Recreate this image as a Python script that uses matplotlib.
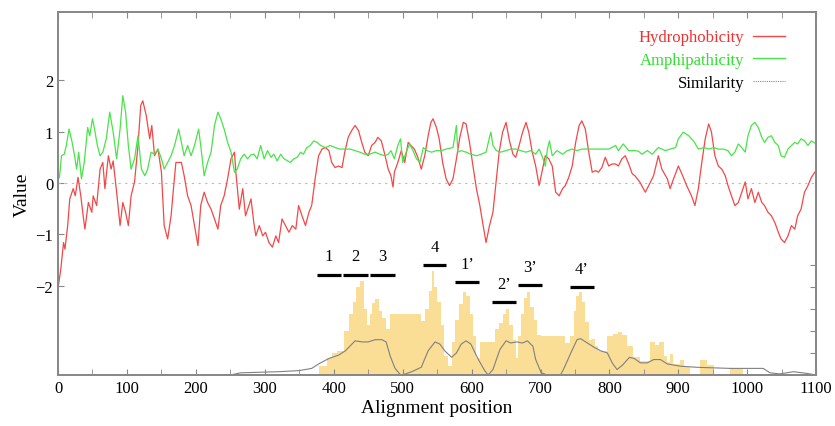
import matplotlib
matplotlib.use("Agg")
import matplotlib.pyplot as plt
from matplotlib.lines import Line2D
from matplotlib.ticker import MultipleLocator

# hydrophobicity profile (red)
hyd_pos = [0, 4, 8, 10, 14, 17, 22, 25, 29, 33, 37, 39, 44, 49, 51, 56, 61, 65, 68, 73,
           77, 80, 85, 90, 94, 98, 102, 106, 111, 116, 120, 123, 128, 133, 136, 140, 145, 150, 154, 159,
           164, 167, 171, 179, 183, 188, 193, 198, 203, 207, 212, 217, 222, 227, 232, 236, 241, 246, 251, 256,
           258, 263, 268, 272, 280, 284, 287, 292, 297, 301, 306, 311, 316, 320, 325, 330, 335, 340, 345, 349,
           354, 359, 364, 368, 373, 378, 383, 388, 393, 397, 402, 407, 412, 416, 421, 426, 431, 436, 440, 445,
           450, 455, 460, 464, 469, 474, 479, 483, 486, 488, 493, 498, 503, 508, 512, 517, 522, 527, 532, 537,
           541, 544, 549, 553, 558, 563, 568, 573, 578, 583, 588, 592, 597, 602, 607, 612, 616, 621, 626, 631,
           636, 640, 645, 650, 655, 660, 664, 669, 674, 679, 683, 688, 693, 698, 703, 707, 712, 717, 722, 727,
           732, 736, 741, 746, 751, 756, 760, 765, 770, 775, 780, 784, 789, 794, 799, 804, 809, 813, 818, 823,
           828, 833, 837, 844, 852, 857, 864, 871, 876, 884, 888, 893, 900, 905, 912, 919, 924, 929, 934, 939,
           944, 948, 953, 958, 963, 968, 972, 977, 982, 987, 992, 997, 1001, 1006, 1011, 1016, 1021, 1025, 1030, 1035,
           1040, 1045, 1049, 1054, 1059, 1064, 1069, 1073, 1078, 1083, 1088, 1093, 1100]
hyd_val = [-2.05, -1.68, -1.16, -1.29, -0.83, -0.31, -0.11, -0.25, 0.11, -0.25, -0.7, -0.9, -0.38, -0.57, -0.25, -0.44, 0.27, 0.40, -0.11, 0.53,
           0.27, 0.43, -0.18, -0.83, -0.38, -0.57, -0.83, -0.25, 0.02, 0.73, 1.51, 1.6, 1.31, 0.86, 1.12, 0.53, 0.66, 0.21, -0.83, -1.09,
           -0.64, -0.18, 0.40, 0.4, 0.14, -0.25, -0.44, -0.83, -1.22, -0.44, -0.18, -0.38, -0.51, -0.7, -0.9, -0.44, -0.25, 0.08, 0.47, 0.6,
           0.21, -0.51, -0.11, -0.64, -0.31, -0.77, -1.03, -0.83, -1.03, -0.96, -1.16, -1.25, -1.03, -1.16, -0.7, -0.83, -0.96, -0.83, -0.9, -0.44,
           -0.64, -0.83, -0.57, -0.44, 0.08, 0.53, 0.66, 0.69, 0.63, 0.40, 0.30, 0.33, 0.30, 0.6, 0.89, 1.02, 1.12, 1.02, 0.82, 0.6,
           0.53, 0.73, 0.79, 0.89, 0.82, 0.56, 0.27, 0.14, -0.08, 0.21, 0.40, 0.63, 0.4, 0.79, 0.73, 0.66, 0.5, 0.27, 0.53, 0.92,
           1.18, 1.25, 1.08, 0.86, 0.40, 0.08, -0.05, 0.08, 0.47, 0.89, 1.18, 1.15, 0.79, 0.33, -0.11, -0.44, -0.77, -1.16, -0.83, -0.57,
           0.08, 0.6, 0.99, 1.18, 0.82, 0.56, 0.5, 0.73, 0.99, 1.18, 0.99, 0.6, 0.33, -0.05, 0.27, 0.53, 0.47, 0.33, -0.18, -0.25,
           -0.11, -0.05, 0.11, 0.33, 0.79, 1.12, 1.21, 1.05, 0.6, 0.21, 0.24, 0.21, 0.3, 0.5, 0.33, 0.37, 0.37, 0.33, 0.47, 0.53,
           0.37, 0.18, 0.14, 0.02, -0.18, -0.05, 0.14, 0.53, 0.27, 0.08, -0.11, 0.08, 0.33, 0.18, -0.05, -0.25, -0.44, -0.11, 0.40, 0.86,
           1.15, 0.99, 0.53, 0.33, 0.27, 0.14, -0.05, -0.25, -0.44, -0.38, -0.18, 0.02, -0.31, -0.11, -0.38, -0.18, -0.38, -0.44, -0.57, -0.64,
           -0.77, -0.96, -1.09, -1.16, -1.03, -0.83, -0.9, -0.64, -0.51, -0.18, -0.05, 0.11, 0.25]

# amphipathicity profile (green)
amp_pos = [0, 2, 5, 9, 12, 16, 20, 24, 27, 30, 34, 38, 43, 46, 50, 53, 57, 61, 65, 70,
           75, 80, 85, 90, 94, 98, 102, 106, 111, 116, 121, 126, 130, 135, 140, 145, 150, 154, 159, 164,
           169, 175, 179, 183, 188, 193, 198, 204, 207, 212, 217, 222, 227, 232, 236, 241, 246, 251, 256, 260,
           265, 270, 275, 280, 284, 289, 294, 299, 304, 309, 313, 318, 323, 328, 333, 337, 342, 347, 352, 356,
           361, 366, 371, 376, 381, 388, 395, 402, 409, 416, 424, 431, 438, 445, 452, 460, 467, 474, 479, 483,
           488, 493, 497, 500, 505, 510, 515, 520, 525, 530, 535, 542, 549, 556, 563, 573, 578, 580, 585, 592,
           599, 607, 614, 621, 626, 628, 631, 636, 642, 650, 657, 664, 671, 679, 686, 693, 698, 703, 707, 710,
           713, 717, 724, 732, 739, 746, 753, 760, 770, 780, 789, 799, 809, 813, 820, 828, 835, 842, 847, 855,
           862, 871, 881, 888, 896, 900, 907, 915, 922, 929, 937, 944, 951, 958, 965, 972, 977, 982, 987, 992,
           997, 1001, 1006, 1011, 1016, 1021, 1025, 1030, 1035, 1040, 1045, 1049, 1054, 1059, 1064, 1069, 1073, 1078, 1083, 1088,
           1093, 1100]
amp_val = [0.15, 0.1, 0.53, 0.56, 0.73, 1.05, 0.82, 0.53, 0.27, 0.6, 0.08, 0.4, 1.08, 0.92, 1.25, 1.05, 0.73, 0.53, 0.6, 0.86,
           1.38, 0.99, 0.47, 1.05, 1.70, 1.38, 0.73, 0.27, 0.47, 0.92, 0.27, 0.14, 0.27, 0.6, 0.56, 0.66, 0.47, 0.27, 0.4, 0.53,
           0.73, 1.05, 0.79, 0.53, 0.73, 0.53, 0.73, 1.05, 0.73, 0.14, 0.4, 0.6, 1.12, 1.38, 1.25, 1.05, 0.79, 0.6, 0.21, 0.27,
           0.47, 0.56, 0.47, 0.55, 0.56, 0.47, 0.73, 0.47, 0.63, 0.5, 0.56, 0.43, 0.56, 0.47, 0.43, 0.4, 0.47, 0.5, 0.6, 0.56,
           0.69, 0.73, 0.82, 0.79, 0.73, 0.69, 0.73, 0.69, 0.66, 0.66, 0.66, 0.63, 0.6, 0.56, 0.56, 0.6, 0.56, 0.53, 0.56, 0.63,
           0.47, 0.73, 0.86, 0.40, 0.6, 0.76, 0.63, 0.47, 0.4, 0.69, 0.63, 0.6, 0.63, 0.63, 0.66, 0.69, 1.12, 0.6, 0.63, 0.6,
           0.56, 0.53, 0.56, 0.6, 0.89, 0.99, 0.73, 0.63, 0.6, 0.63, 0.66, 0.66, 0.63, 0.6, 0.63, 0.56, 0.66, 0.5, 0.33, 0.66,
           0.82, 0.53, 0.63, 0.56, 0.63, 0.66, 0.63, 0.66, 0.66, 0.66, 0.66, 0.66, 0.73, 0.63, 0.76, 0.63, 0.63, 0.62, 0.56, 0.63,
           0.56, 0.69, 0.63, 0.66, 0.69, 0.86, 0.99, 0.92, 0.82, 0.66, 0.69, 0.66, 0.69, 0.66, 0.66, 0.63, 0.53, 0.6, 0.76, 0.69,
           0.6, 0.92, 1.12, 1.18, 1.08, 0.89, 0.79, 0.89, 0.92, 0.79, 0.73, 0.53, 0.5, 0.66, 0.73, 0.79, 0.76, 0.86, 0.82, 0.73,
           0.82, 0.76]

# similarity curve (grey, right hand scale)
sim_pos = [0, 250, 265, 320, 350, 368, 378, 393, 407, 417, 431, 441, 450, 460, 470, 476, 482, 489, 497, 504,
           513, 527, 537, 547, 554, 561, 571, 578, 585, 592, 599, 609, 619, 624, 631, 641, 650, 657, 665, 674,
           681, 689, 693, 701, 710, 729, 734, 744, 753, 758, 768, 778, 787, 797, 804, 811, 819, 829, 836, 845,
           855, 864, 874, 884, 903, 927, 951, 975, 1013, 1023, 1033, 1047, 1067, 1086, 1100]
sim_val = [0, 0, 0.02, 0.03, 0.04, 0.06, 0.1, 0.15, 0.18, 0.22, 0.31, 0.30, 0.30, 0.32, 0.32, 0.30, 0.17, 0.06, 0.0, 0.01,
           0.03, 0.07, 0.22, 0.30, 0.28, 0.22, 0.16, 0.2, 0.28, 0.31, 0.28, 0.15, 0.04, 0.0, 0.05, 0.23, 0.31, 0.29, 0.3, 0.29,
           0.31, 0.26, 0.14, 0.02, 0.0, 0.0, 0.06, 0.2, 0.32, 0.33, 0.29, 0.25, 0.22, 0.20, 0.11, 0.05, 0.09, 0.16, 0.15, 0.11,
           0.11, 0.14, 0.14, 0.10, 0.08, 0.07, 0.065, 0.06, 0.06, 0.06, 0.02, 0.01, 0.03, 0.015, 0.0]

# conservation histogram (yellow, right hand scale)
cons_edges = [378, 390, 398, 405, 415, 422, 428, 433, 438, 444, 448, 452, 456, 460, 465, 470, 476, 481, 526, 533,
              538, 542, 546, 550, 555, 560, 566, 571, 576, 582, 587, 592, 597, 602, 606, 612, 634, 640, 645, 650,
              655, 660, 664, 668, 672, 676, 680, 685, 690, 695, 700, 735, 743, 748, 752, 756, 760, 765, 770, 775,
              779, 784, 797, 805, 812, 818, 826, 834, 845, 859, 866, 872, 879, 884, 888, 892, 903, 908, 917, 931,
              941, 951, 975, 994]
cons_height = [0.08, 0.15, 0.2, 0.22, 0.4, 0.55, 0.66, 0.8, 0.85, 0.6, 0.45, 0.55, 0.65, 0.69, 0.58, 0.52, 0.42, 0.55, 0.49,
               0.6, 0.76, 0.94, 0.8, 0.66, 0.45, 0.17, 0.08, 0.3, 0.5, 0.64, 0.75, 0.72, 0.55, 0.35, 0.15, 0.30, 0.42, 0.47, 0.55,
               0.6, 0.45, 0.32, 0.15, 0.35, 0.55, 0.7, 0.75, 0.62, 0.5, 0.36, 0.35, 0.29, 0.35, 0.58, 0.72, 0.75, 0.66, 0.48, 0.32,
               0.33, 0.26, 0.22, 0.35, 0.37, 0.39, 0.36, 0.26, 0.16, 0.13, 0.30, 0.27, 0.30, 0.17, 0.12, 0.19, 0.10, 0.14, 0.07, 0.0,
               0.14, 0.09, 0.0, 0.06]

# repeat segments
seg_names = ["1", "2", "3", "4", "1\u2019", "2\u2019", "3\u2019", "4\u2019"]
seg_start = [375, 414, 453, 530, 576, 630, 667, 743]
seg_end = [410, 449, 489, 563, 611, 664, 702, 777]
seg_level = [-1.79, -1.79, -1.79, -1.6, -1.93, -2.32, -1.99, -2.03]

plt.rcParams['font.family'] = "Liberation Serif"
plt.rcParams['font.size'] = 12
plt.rcParams['axes.unicode_minus'] = True

fig = plt.figure(figsize=(8.35, 4.27), dpi=100)
ax = fig.add_axes([0.0695, 0.1194, 0.908, 0.8502])
ax2 = ax.twinx()
ax.set_zorder(ax2.get_zorder() + 1)
ax.patch.set_visible(False)

ax2.stairs(cons_height, cons_edges, fill=True, color="#fade96", lw=0)
ax2.plot(sim_pos, sim_val, color="#808080", lw=0.8)

ax.axhline(0, color="#bbbbbb", lw=0.8, ls=(0, (2, 4)))
ax.plot(hyd_pos, hyd_val, color="#f24848", lw=0.9)
ax.plot(amp_pos, amp_val, color="#48e448", lw=0.9)

for name, x0, x1, lev in zip(seg_names, seg_start, seg_end, seg_level):
    ax.plot([x0, x1], [lev, lev], color="black", lw=2.3, solid_capstyle="butt")
    ax.text((x0 + x1) / 2.0, lev + 0.36, name, ha="center", va="center", fontsize=12)

ax.set_xlim(0, 1100)
ax.set_ylim(-3.74, 3.33)
ax2.set_ylim(0, 3.29)

ax.xaxis.set_major_locator(MultipleLocator(100))
ax.xaxis.set_minor_locator(MultipleLocator(50))
ax.set_yticks([-2, -1, 0, 1, 2])
ax2.set_yticks([0.2, 0.4, 0.6, 0.8, 1.0])
ax2.set_yticklabels([])

ax.tick_params(which="both", direction="in", top=True, right=False, length=4,
               color="#888888", labelsize=12)
ax2.tick_params(direction="in", length=4, color="#888888")
for a in (ax, ax2):
    for s in a.spines.values():
        s.set_color("#888888")
        s.set_linewidth(1.3)

ax.set_xlabel("Alignment position", fontsize=14, labelpad=2)
ax.set_ylabel("Value", fontsize=14, labelpad=3)

handles = [Line2D([], [], color="#f24848", lw=1.0),
           Line2D([], [], color="#48e448", lw=1.0),
           Line2D([], [], color="#888888", lw=0.8, ls=(0, (1, 1)))]
ax.legend(handles, ["Hydrophobicity", "Amphipathicity", "Similarity"],
          loc="upper right", bbox_to_anchor=(0.97, 0.975), frameon=False,
          markerfirst=False, handlelength=1.9, handletextpad=0.55,
          labelspacing=0.4, borderpad=0, fontsize=12,
          labelcolor=["#f03030", "#30e030", "black"])

fig.savefig("out.png", dpi=100)
